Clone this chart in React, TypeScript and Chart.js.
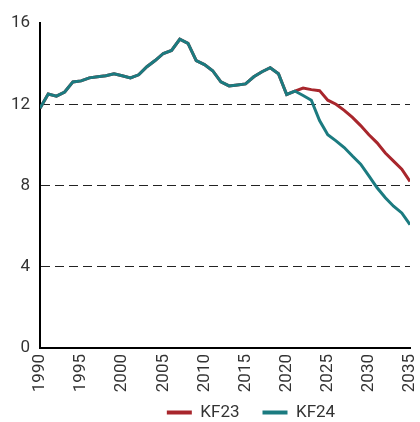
import React, { useEffect, useRef } from "react";
import { Chart, registerables } from "chart.js";

Chart.register(...registerables);

const years = [
  1990, 1991, 1992, 1993, 1994, 1995, 1996, 1997, 1998, 1999,
  2000, 2001, 2002, 2003, 2004, 2005, 2006, 2007, 2008, 2009,
  2010, 2011, 2012, 2013, 2014, 2015, 2016, 2017, 2018, 2019,
  2020, 2021, 2022, 2023, 2024, 2025, 2026, 2027, 2028, 2029,
  2030, 2031, 2032, 2033, 2034, 2035,
];

const history = [
  11.8, 12.5, 12.4, 12.6, 13.1, 13.15, 13.3, 13.35, 13.4, 13.5,
  13.4, 13.3, 13.45, 13.85, 14.15, 14.5, 14.65, 15.2, 15.0, 14.15,
  13.95, 13.65, 13.1, 12.9, 12.95, 13.0, 13.35, 13.6, 13.8, 13.5,
  12.48, 12.65,
];

const kf23Projection = [
  12.8, 12.72, 12.67, 12.2, 12.0, 11.7, 11.35, 10.95,
  10.5, 10.1, 9.6, 9.2, 8.8, 8.2,
];

const kf24Projection = [
  12.43, 12.2, 11.2, 10.5, 10.2, 9.87, 9.45, 9.05,
  8.47, 7.89, 7.4, 6.98, 6.65, 6.07,
];

const yTicks = [0, 4, 8, 12, 16];
const xTickStep = 5;

const KF23_COLOR = "#a8262c";
const KF24_COLOR = "#1b7b80";
const TEXT_COLOR = "#333333";
const FONT = "Roboto";

const legendShift = {
  id: "legendShift",
  afterLayout(chart: any) {
    const lg = chart.legend;
    if (!lg) return;
    const dx = 46;
    const dy = -13;
    lg.left += dx;
    lg.right += dx;
    lg.top += dy;
    lg.bottom += dy;
    if (lg.legendHitBoxes) {
      lg.legendHitBoxes.forEach((b: any) => {
        b.left += dx;
        b.top += dy;
      });
    }
  },
};

export default function App() {
  const canvasRef = useRef<HTMLCanvasElement | null>(null);

  useEffect(() => {
    const canvas = canvasRef.current;
    if (!canvas) return;
    const kf23 = [...history, ...kf23Projection];
    const kf24 = [...history, ...kf24Projection];
    const toPoints = (vals: number[]) => years.map((x, i) => ({ x, y: vals[i] }));
    const defaultLabels = (Chart as any).defaults.plugins.legend.labels.generateLabels;

    const chart = new Chart(canvas, {
      type: "line",
      data: {
        datasets: [
          {
            label: "KF24",
            data: toPoints(kf24),
            borderColor: KF24_COLOR,
            backgroundColor: KF24_COLOR,
            borderWidth: 3,
            pointRadius: 0,
            tension: 0,
          },
          {
            label: "KF23",
            data: toPoints(kf23),
            borderColor: KF23_COLOR,
            backgroundColor: KF23_COLOR,
            borderWidth: 3,
            pointRadius: 0,
            tension: 0,
          },
        ],
      },
      plugins: [legendShift],
      options: {
        animation: false,
        responsive: true,
        maintainAspectRatio: false,
        layout: { padding: { top: 23, right: 10, left: 0, bottom: -22 } },
        plugins: {
          tooltip: { enabled: false },
          legend: {
            position: "bottom",
            reverse: true,
            labels: {
              boxWidth: 25,
              boxHeight: 4,
              padding: 23,
              color: TEXT_COLOR,
              font: { family: FONT, size: 17 },
              generateLabels: (c: any) =>
                defaultLabels(c).map((item: any) => ({ ...item, lineWidth: 0 })),
            },
          },
        },
        scales: {
          x: {
            type: "linear",
            min: years[0],
            max: years[years.length - 1],
            afterFit: (scale: any) => {
              scale.height = 46;
              scale.paddingLeft = 0;
              scale.paddingRight = 0;
            },
            ticks: {
              stepSize: xTickStep,
              autoSkip: false,
              minRotation: 90,
              maxRotation: 90,
              padding: 6,
              color: TEXT_COLOR,
              font: { family: FONT, size: 17 },
              callback: (v: any) => String(v),
            },
            grid: { display: false, drawTicks: false },
            border: { display: true, color: "#000", width: 2 },
          },
          y: {
            min: yTicks[0],
            max: yTicks[yTicks.length - 1],
            afterFit: (scale: any) => {
              scale.width = 40;
            },
            afterBuildTicks: (scale: any) => {
              scale.ticks = yTicks.map((v) => ({ value: v }));
            },
            ticks: {
              padding: 10,
              color: TEXT_COLOR,
              font: { family: FONT, size: 17 },
            },
            grid: {
              drawTicks: false,
              lineWidth: 1,
              color: (ctx: any) =>
                ctx.tick && (ctx.tick.value === 0 || ctx.tick.value === 16)
                  ? "rgba(0,0,0,0)"
                  : "#222222",
            },
            border: { display: true, color: "#000", width: 2, dash: [9, 5] },
          },
        },
      },
    });
    return () => chart.destroy();
  }, []);

  return (
    <div style={{ position: "absolute", left: 0, top: 0, width: 420, height: 422, background: "#fff" }}>
      <canvas ref={canvasRef} />
    </div>
  );
}
